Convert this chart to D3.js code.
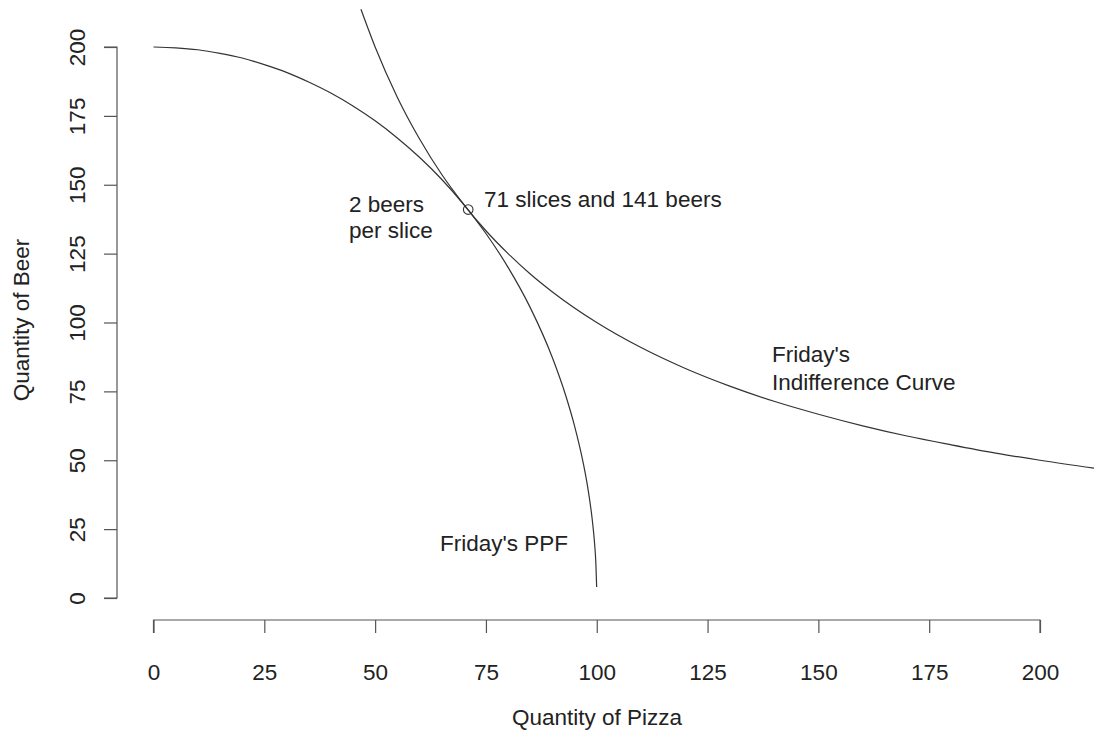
<!DOCTYPE html>
<html>
<head>
<meta charset="utf-8">
<script src="https://cdn.jsdelivr.net/npm/d3@7"></script>
<style>
  body { margin: 0; background: #fff; }
  text { font-family: "Liberation Sans", Arial, sans-serif; fill: #222; }
</style>
</head>
<body>
<script>
"use strict";
// values
const ppfPizza = [0, 5, 10, 15, 20, 25, 30, 35, 40, 45, 50, 55, 60, 65, 70, 75, 80, 85, 90, 93, 95, 97, 98, 99, 99.5, 99.8, 99.98]
const ppfBeer = [200, 199.7, 199.0, 197.7, 196.0, 193.6, 190.8, 187.3, 183.3, 178.6, 173.2, 167.0, 160.0, 152.0, 142.8, 132.3, 120.0, 105.4, 87.2, 73.5, 62.4, 48.6, 39.8, 28.2, 20.0, 12.6, 4.0]

const icPizza = [46.8, 50, 55, 60, 65, 70, 75, 80, 85, 90, 100, 110, 120, 130, 140, 150, 160, 170, 180, 190, 200, 215]
const icBeer = [213.7, 200, 181.8, 166.7, 153.8, 142.9, 133.3, 125, 117.6, 111.1, 100, 90.9, 83.3, 76.9, 71.4, 66.7, 62.5, 58.8, 55.6, 52.6, 50, 46.5]

const optPizza = [71]
const optBeer = [141]

const xTicks = [0, 25, 50, 75, 100, 125, 150, 175, 200]
const yTicks = [0, 25, 50, 75, 100, 125, 150, 175, 200]

const width = 1094, height = 736
const fontSize = 22.5

const svg = d3.select("body").append("svg")
    .attr("width", width)
    .attr("height", height)

const x = d3.scaleLinear().domain([0, 200]).range([153.5, 1040])
const y = d3.scaleLinear().domain([0, 200]).range([598, 47])

// clip region for the curves
svg.append("clipPath").attr("id", "plot")
  .append("rect")
    .attr("x", 117).attr("y", 0)
    .attr("width", width - 117).attr("height", 620)

const line = d3.line()
    .x(d => x(d[0]))
    .y(d => y(d[1]))
    .curve(d3.curveMonotoneX)

const ppf = ppfPizza.map((p, i) => [p, ppfBeer[i]])
const ic = icPizza.map((p, i) => [p, icBeer[i]])

const curves = svg.append("g").attr("clip-path", "url(#plot)")
curves.selectAll("path")
  .data([ppf, ic])
  .enter().append("path")
    .attr("d", line)
    .attr("fill", "none")
    .attr("stroke", "#333")
    .attr("stroke-width", 1.2)

svg.selectAll(".opt")
  .data(optPizza)
  .enter().append("circle")
    .attr("class", "opt")
    .attr("cx", d => x(d))
    .attr("cy", (d, i) => y(optBeer[i]))
    .attr("r", 4.8)
    .attr("fill", "none")
    .attr("stroke", "#333")
    .attr("stroke-width", 1.1)

// axes, R style
const xAxis = d3.axisBottom(x).tickValues(xTicks).tickSize(13).tickPadding(31.5)
const yAxis = d3.axisLeft(y).tickValues(yTicks).tickSize(13)

const gx = svg.append("g").attr("transform", "translate(0,620)").call(xAxis)
gx.select(".domain").attr("d", "M" + x(0) + ",13V0H" + x(200) + "V13")
gx.selectAll("text")
    .attr("font-size", fontSize).attr("fill", "#222")
    .attr("font-family", "Liberation Sans, Arial, sans-serif")

const gy = svg.append("g").attr("transform", "translate(117,0)").call(yAxis)
gy.select(".domain").attr("d", "M-13," + y(0) + "H0V" + y(200) + "H-13")
gy.selectAll("text")
    .attr("font-size", fontSize).attr("fill", "#222")
    .attr("font-family", "Liberation Sans, Arial, sans-serif")
    .attr("x", 0).attr("y", 0).attr("dy", null)
    .attr("text-anchor", "middle")
    .attr("transform", "translate(-32,0) rotate(-90)")

svg.selectAll(".domain, .tick line").attr("stroke", "#555").attr("stroke-width", 1.2)

// labels
svg.append("text")
    .attr("x", 597).attr("y", 725)
    .attr("text-anchor", "middle")
    .attr("font-size", fontSize)
    .text("Quantity of Pizza")

svg.append("text")
    .attr("transform", "translate(29,320) rotate(-90)")
    .attr("text-anchor", "middle")
    .attr("font-size", fontSize)
    .text("Quantity of Beer")

const notes = [
    {t: "71 slices and 141 beers", x: 484, y: 207},
    {t: "2 beers", x: 349, y: 212},
    {t: "per slice", x: 349, y: 238},
    {t: "Friday's", x: 772, y: 362},
    {t: "Indifference Curve", x: 772, y: 390},
    {t: "Friday's PPF", x: 440, y: 551}
]
svg.selectAll(".note")
  .data(notes)
  .enter().append("text")
    .attr("class", "note")
    .attr("x", d => d.x)
    .attr("y", d => d.y)
    .attr("font-size", fontSize)
    .text(d => d.t)
</script>
</body>
</html>
